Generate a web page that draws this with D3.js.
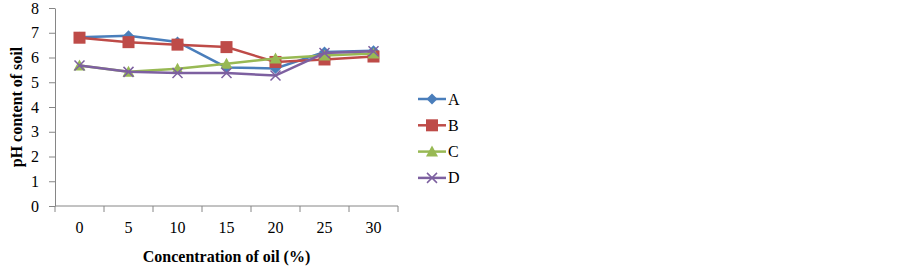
<!DOCTYPE html>
<html>
<head>
<meta charset="utf-8">
<script src="https://cdn.jsdelivr.net/npm/d3@7"></script>
<style>
  body { margin: 0; background: #fff; }
  svg { display: block; font-family: "Liberation Serif", "Times New Roman", serif; }
</style>
</head>
<body>
<div id="chart"></div>
<script>
// chart data
const categories = ["0", "5", "10", "15", "20", "25", "30"];
const seriesNames = ["A", "B", "C", "D"];
const valuesA = [6.82, 6.88, 6.63, 5.6, 5.56, 6.22, 6.27];
const valuesB = [6.8, 6.62, 6.52, 6.42, 5.82, 5.92, 6.04];
const valuesC = [5.68, 5.42, 5.55, 5.75, 5.96, 6.08, 6.16];
const valuesD = [5.68, 5.42, 5.37, 5.37, 5.27, 6.18, 6.25];
const yTicks = [0, 1, 2, 3, 4, 5, 6, 7, 8];

const colors = ["#4a7ebb", "#be4b48", "#98b954", "#7d60a0"];
const series = [valuesA, valuesB, valuesC, valuesD];

const chartWidth = 903, chartHeight = 269;
const margin = { top: 8, left: 55 };
const width = 343, height = 198;

const svg = d3.select("#chart").append("svg")
  .attr("width", chartWidth)
  .attr("height", chartHeight);

const g = svg.append("g")
  .attr("transform", "translate(" + margin.left + "," + margin.top + ")");

let x = d3.scaleBand().domain(categories).range([0, width]);
let y = d3.scaleLinear().domain([0, 8]).range([height, 0]);

// y axis
const yAxis = g.append("g")
  .call(d3.axisLeft(y).tickValues(yTicks).tickSize(6).tickSizeOuter(0));
yAxis.select(".domain").attr("stroke", "#868686");
yAxis.selectAll(".tick line").attr("stroke", "#868686");
yAxis.selectAll(".tick text")
  .attr("font-size", 16).attr("fill", "#000").attr("x", -16)
  .attr("font-family", "Liberation Serif, serif");

// x axis with ticks on band edges
const xAxis = g.append("g").attr("transform", "translate(0," + height + ")");
xAxis.append("line").attr("x1", 0).attr("x2", width).attr("stroke", "#868686");
const edges = categories.map(c => x(c)).concat([width]);
xAxis.selectAll(".edge").data(edges).enter().append("line")
  .attr("x1", d => d).attr("x2", d => d)
  .attr("y1", 0).attr("y2", 6).attr("stroke", "#868686");
xAxis.selectAll(".lbl").data(categories).enter().append("text")
  .attr("x", d => x(d) + x.bandwidth() / 2)
  .attr("y", 27)
  .attr("text-anchor", "middle")
  .attr("font-size", 16)
  .text(d => d);

// axis titles
svg.append("text")
  .attr("transform", "translate(22," + (margin.top + height / 2) + ") rotate(-90)")
  .attr("text-anchor", "middle")
  .attr("font-size", 16).attr("font-weight", "bold")
  .text("pH content of soil");
svg.append("text")
  .attr("x", margin.left + width / 2)
  .attr("y", 262)
  .attr("text-anchor", "middle")
  .attr("font-size", 16).attr("font-weight", "bold")
  .text("Concentration of oil (%)");

const cx = i => x(categories[i]) + x.bandwidth() / 2;

function drawMarker(sel, k, color) {
  if (k === 0) {
    sel.append("path").attr("d", "M0,-5.5L5.5,0L0,5.5L-5.5,0Z").attr("fill", color);
  } else if (k === 1) {
    sel.append("rect").attr("x", -6).attr("y", -6).attr("width", 12).attr("height", 12)
      .attr("fill", color);
  } else if (k === 2) {
    sel.append("path").attr("d", "M0,-6L6,5L-6,5Z").attr("fill", color);
  } else {
    sel.append("path").attr("d", "M-5,-5L5,5M-5,5L5,-5")
      .attr("stroke", color).attr("stroke-width", 1.5).attr("fill", "none");
  }
}

const line = d3.line().x((d, i) => cx(i)).y(d => y(d));

series.forEach(function(vals, k) {
  g.append("path")
    .datum(vals)
    .attr("fill", "none")
    .attr("stroke", colors[k])
    .attr("stroke-width", 2.5)
    .attr("d", line);
  vals.forEach(function(v, i) {
    const m = g.append("g").attr("transform", "translate(" + cx(i) + "," + y(v) + ")");
    drawMarker(m, k, colors[k]);
  });
});

// legend
const legend = svg.append("g").attr("transform", "translate(418,99)");
seriesNames.forEach(function(name, k) {
  const row = legend.append("g").attr("transform", "translate(0," + (k * 26.3) + ")");
  row.append("line").attr("x1", 0).attr("x2", 28).attr("stroke", colors[k]).attr("stroke-width", 2.5);
  const m = row.append("g").attr("transform", "translate(14,0)");
  drawMarker(m, k, colors[k]);
  row.append("text").attr("x", 30).attr("y", 5.5).attr("font-size", 16).text(name);
});
</script>
</body>
</html>
